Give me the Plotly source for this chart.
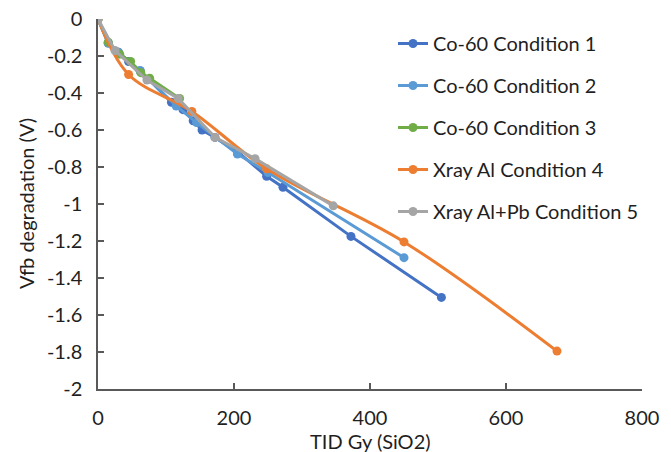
import plotly.graph_objects as go

names = ["Co-60 Condition 1", "Co-60 Condition 2", "Co-60 Condition 3",
         "Xray Al Condition 4", "Xray Al+Pb Condition 5"]
colors = ["#4472C4", "#5B9BD5", "#70AD47", "#ED7D31", "#A5A5A5"]

s1_x = [0, 15, 30, 45, 62, 108, 125, 140, 153, 172, 206, 248, 272, 372, 505]
s1_y = [0, -0.13, -0.18, -0.23, -0.28, -0.45, -0.49, -0.55, -0.60, -0.64, -0.72, -0.85, -0.91, -1.175, -1.505]
s2_x = [0, 15, 30, 62, 115, 145, 205, 250, 450]
s2_y = [0, -0.13, -0.18, -0.28, -0.47, -0.56, -0.73, -0.83, -1.29]
s3_x = [0, 15, 32, 48, 63, 76, 120]
s3_y = [0, -0.125, -0.19, -0.23, -0.29, -0.32, -0.43]
s4_x = [0, 45, 138, 248, 450, 675]
s4_y = [0, -0.30, -0.50, -0.81, -1.205, -1.795]
s5_x = [0, 25, 72, 118, 172, 231, 346]
s5_y = [0, -0.17, -0.33, -0.43, -0.64, -0.755, -1.01]

xs = [s1_x, s2_x, s3_x, s4_x, s5_x]
ys = [s1_y, s2_y, s3_y, s4_y, s5_y]
shapes_ = ["linear", "linear", "linear", "spline", "linear"]

x_ticks = [0, 200, 400, 600, 800]
y_ticks = [0, -0.2, -0.4, -0.6, -0.8, -1, -1.2, -1.4, -1.6, -1.8, -2]
y_ticktext = ["0", "-0.2", "-0.4", "-0.6", "-0.8", "-1", "-1.2", "-1.4", "-1.6", "-1.8", "-2"]
x_title = "TID Gy (SiO2)"
y_title = "Vfb degradation (V)"

FONT = "Lato, 'Open Sans', sans-serif"
TXT = "#1f1f1f"

fig = go.Figure()
for i in range(5):
    fig.add_trace(go.Scatter(
        x=xs[i], y=ys[i], name=names[i], mode="lines+markers",
        line=dict(color=colors[i], width=3, shape=shapes_[i], smoothing=1),
        marker=dict(color=colors[i], size=9, symbol="circle"),
        legendgroup=f"g{i}",
    ))

fig.update_layout(
    width=671, height=452,
    margin=dict(l=98, r=29, t=19, b=63, autoexpand=False),
    paper_bgcolor="white", plot_bgcolor="white",
    font=dict(family=FONT, size=20, color=TXT),
    showlegend=True,
    legend=dict(
        x=(393 - 98) / 544, y=(389 - 24) / 370, xanchor="left", yanchor="top",
        bgcolor="rgba(0,0,0,0)", font=dict(family=FONT, size=20, color=TXT),
        tracegroupgap=13, itemwidth=30,
    ),
    xaxis=dict(
        range=[0, 800], tickvals=x_ticks, ticktext=[str(v) for v in x_ticks],
        showgrid=False, zeroline=False, showline=True, linecolor="#595959", linewidth=1.5,
        ticks="inside", ticklen=6, tickcolor="#595959", tickwidth=1.5,
        ticklabelstandoff=10, ticklabeloverflow="allow", automargin=False,
    ),
    yaxis=dict(
        range=[-2, 0], tickvals=y_ticks, ticktext=y_ticktext,
        showgrid=False, zeroline=False, showline=True, linecolor="#595959", linewidth=1.5,
        ticks="inside", ticklen=6, tickcolor="#595959", tickwidth=1.5,
        ticklabelstandoff=10, ticklabeloverflow="allow", automargin=False,
    ),
    annotations=[
        dict(text=x_title, xref="paper", yref="paper", x=0.5, y=(389 - 441) / 370,
             xanchor="center", yanchor="middle", showarrow=False,
             font=dict(family=FONT, size=20, color=TXT)),
        dict(text=y_title, xref="paper", yref="paper", x=(26 - 98) / 544, y=0.5,
             xanchor="center", yanchor="middle", showarrow=False, textangle=-90,
             font=dict(family=FONT, size=20, color=TXT)),
    ],
)

fig.write_html(
    "out.html",
    config={"displayModeBar": False},
    post_script="document.body.style.margin='0';document.body.style.overflow='hidden';document.documentElement.style.overflow='hidden';",
)
